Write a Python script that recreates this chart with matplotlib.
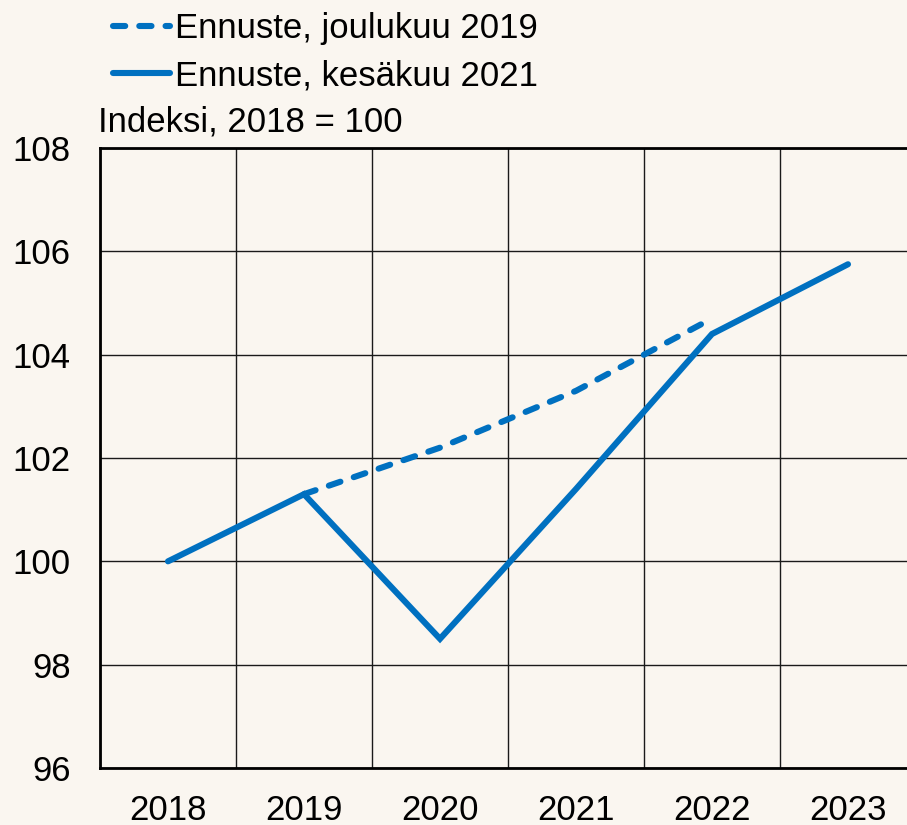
import numpy as np
import matplotlib.pyplot as plt
from matplotlib.ticker import FixedLocator

plt.rcParams['font.family'] = ['Liberation Sans', 'DejaVu Sans']

years = ['2018', '2019', '2020', '2021', '2022', '2023']
kesakuu_2021 = [100.0, 101.3, 98.5, 101.4, 104.4, 105.75]
joulukuu_2019 = [None, 101.3, 102.2, 103.3, 104.7, None]

bg = '#faf6f0'
blue = '#0070c0'
fs = 25

fig = plt.figure(figsize=(9.07, 8.25), dpi=100, facecolor=bg)
# axes runs a little past the right edge, like in the original
ax = fig.add_axes([100 / 907, 57 / 825, 816 / 907, 620 / 825], facecolor=bg)

x = np.arange(len(years))
dec = np.array([np.nan if v is None else v for v in joulukuu_2019], dtype=float)

l1, = ax.plot(x, dec, color=blue, lw=4.4, dashes=(2.0, 2.3),
              dash_capstyle='round', solid_capstyle='round',
              label='Ennuste, joulukuu 2019')
l2, = ax.plot(x, kesakuu_2021, color=blue, lw=4.4, solid_capstyle='round',
              solid_joinstyle='miter', label='Ennuste, kesäkuu 2021')

ax.set_xlim(-0.5, 5.5)
ax.set_ylim(96, 108)
ax.set_yticks(np.arange(96, 109, 2))
ax.set_xticks(x)
ax.set_xticklabels(years)
ax.xaxis.set_minor_locator(FixedLocator(np.arange(-0.5, 6, 1)))

ax.grid(False)
ax.yaxis.grid(True, which='major', color='#1a1a1a', lw=1.0)
ax.xaxis.grid(True, which='minor', color='#1a1a1a', lw=1.0)
ax.set_axisbelow(True)

for s in ax.spines.values():
    s.set_linewidth(2.0)
    s.set_color('black')

ax.tick_params(axis='both', which='both', length=0, labelsize=fs)
ax.tick_params(axis='y', pad=21)
ax.tick_params(axis='x', pad=19)

fig.text(98 / 907, 1 - 122 / 825, 'Indeksi, 2018 = 100', fontsize=fs,
         ha='left', va='center')

leg = fig.legend(handles=[l1, l2], loc='upper left',
                 bbox_to_anchor=(99 / 907, 1 + 2 / 825), frameon=False,
                 fontsize=fs, handlelength=1.65, handletextpad=0.15,
                 labelspacing=0.42, borderaxespad=0.0)

fig.savefig('out.png', dpi=100, facecolor=bg)
